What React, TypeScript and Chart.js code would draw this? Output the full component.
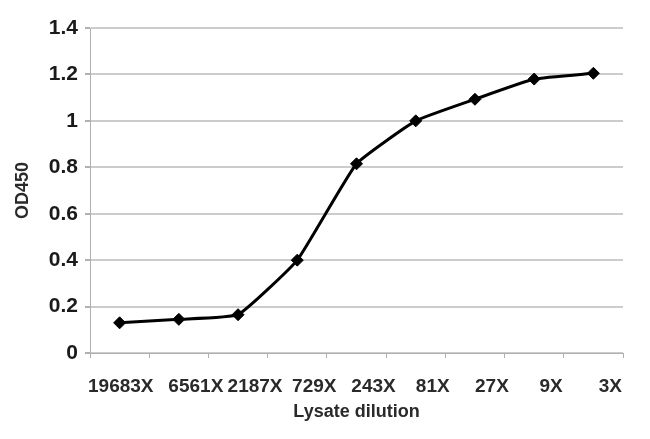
import React, { useEffect, useRef } from 'react';
import { Chart, registerables } from 'chart.js';

Chart.register(...registerables);

const categories = ['19683X', '6561X', '2187X', '729X', '243X', '81X', '27X', '9X', '3X'];
const odValues = [0.13, 0.145, 0.165, 0.4, 0.815, 1.0, 1.093, 1.18, 1.205];
const yMin = 0;
const yMax = 1.4;
const yStep = 0.2;
const xTitle = 'Lysate dilution';
const yTitle = 'OD450';

export default function App() {
  const canvasRef = useRef<HTMLCanvasElement | null>(null);

  useEffect(() => {
    const canvas = canvasRef.current;
    if (!canvas) return;
    const font = { family: '"Liberation Sans", Arial, sans-serif', weight: 'bold' as const };
    const chart = new Chart(canvas, {
      type: 'line',
      data: {
        labels: categories,
        datasets: [
          {
            data: odValues,
            borderColor: '#000',
            backgroundColor: '#000',
            borderWidth: 3,
            tension: 0.12,
            pointStyle: 'rectRot',
            pointRadius: 6,
            pointBackgroundColor: '#000',
            pointBorderColor: '#000',
            pointBorderWidth: 1,
          },
        ],
      },
      options: {
        responsive: false,
        animation: false,
        layout: { padding: { left: 0, right: 27, top: 28, bottom: 0 } },
        plugins: { legend: { display: false }, tooltip: { enabled: false } },
        scales: {
          x: {
            type: 'category',
            offset: true,
            grid: {
              offset: true,
              drawOnChartArea: false,
              drawTicks: true,
              tickLength: 5,
              color: '#b0b0b0',
              lineWidth: 1,
            },
            border: { display: true, color: '#b0b0b0', width: 1 },
            ticks: {
              autoSkip: false,
              maxRotation: 0,
              minRotation: 0,
              padding: 17,
              labelOffset: 17,
              color: '#2a2a2a',
              font: { ...font, size: 19 },
              callback: function (this: any, _v: any, i: number) {
                const label = categories[i];
                return i === 0 ? label + '      ' : label;
              },
            },
            title: {
              display: true,
              text: xTitle,
              color: '#2a2a2a',
              font: { ...font, size: 18 },
              padding: { top: 0, bottom: 16 },
            },
            afterFit: (scale: any) => {
              scale.height = 86;
            },
          },
          y: {
            type: 'linear',
            min: yMin,
            max: yMax,
            ticks: {
              stepSize: yStep,
              padding: 7,
              color: '#1a1a1a',
              font: { ...font, size: 21 },
              callback: (v: any) => String(Math.round(Number(v) * 10) / 10),
            },
            grid: {
              color: '#cccccc',
              lineWidth: 2,
              drawTicks: true,
              tickLength: 5,
              tickColor: '#b0b0b0',
            },
            border: { display: true, color: '#b0b0b0', width: 1 },
            title: {
              display: true,
              text: yTitle,
              color: '#2a2a2a',
              font: { ...font, size: 18 },
              padding: { top: 12, bottom: 0 },
            },
            afterFit: (scale: any) => {
              scale.width = 90;
            },
          },
        },
      },
    });
    return () => chart.destroy();
  }, []);

  return (
    <div style={{ position: 'fixed', left: 0, top: 0, width: 650, height: 439, background: '#fff' }}>
      <canvas ref={canvasRef} width={650} height={439} style={{ display: 'block' }} />
    </div>
  );
}
